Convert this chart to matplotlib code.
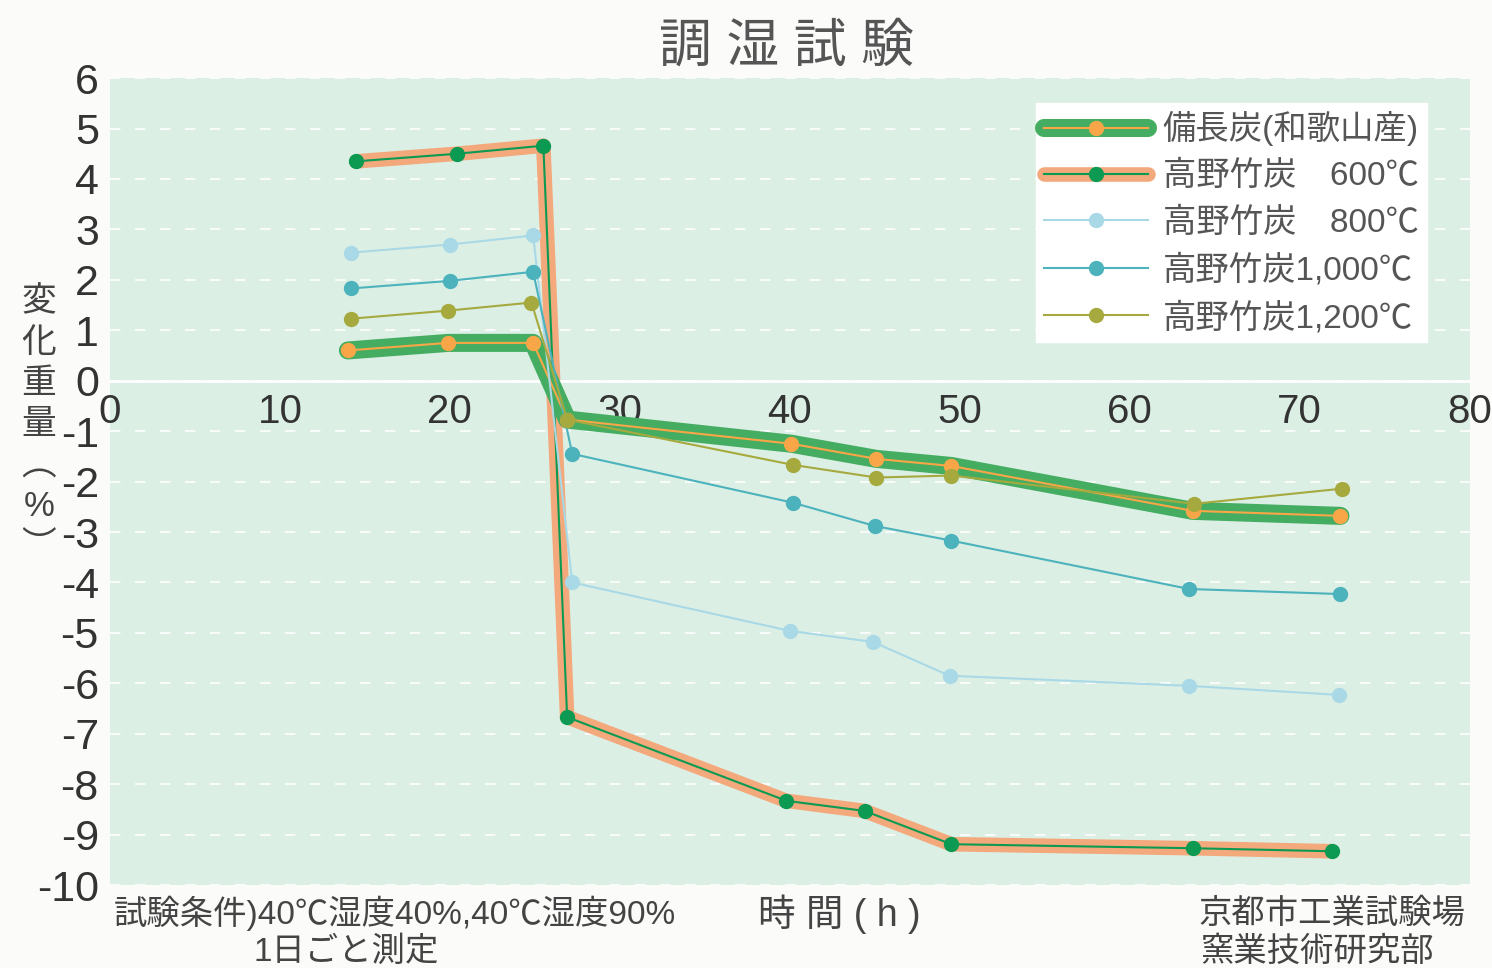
# 調湿試験 chart

import matplotlib.pyplot as plt
from matplotlib.lines import Line2D

plt.rcParams['font.family'] = ['Liberation Sans', 'Noto Sans CJK JP', 'DejaVu Sans']
plt.rcParams['axes.unicode_minus'] = False

# data
labels = ['備長炭(和歌山産)', '高野竹炭　600℃', '高野竹炭　800℃',
          '高野竹炭1,000℃', '高野竹炭1,200℃']

x_bincho = [14.0, 19.9, 24.9, 26.9, 40.1, 45.1, 49.5, 63.7, 72.4]
y_bincho = [0.6, 0.75, 0.75, -0.77, -1.25, -1.55, -1.69, -2.58, -2.68]

x_600 = [14.5, 20.4, 25.5, 26.9, 39.8, 44.4, 49.5, 63.7, 71.9]
y_600 = [4.35, 4.5, 4.66, -6.67, -8.33, -8.53, -9.19, -9.27, -9.33]

x_800 = [14.2, 20.0, 24.9, 27.2, 40.0, 44.9, 49.4, 63.5, 72.3]
y_800 = [2.54, 2.7, 2.88, -4.0, -4.96, -5.18, -5.85, -6.05, -6.23]

x_1000 = [14.2, 20.0, 24.9, 27.2, 40.2, 45.0, 49.5, 63.5, 72.4]
y_1000 = [1.83, 1.98, 2.16, -1.45, -2.42, -2.88, -3.17, -4.13, -4.23]

x_1200 = [14.2, 19.9, 24.8, 26.9, 40.2, 45.1, 49.5, 63.8, 72.5]
y_1200 = [1.23, 1.39, 1.55, -0.77, -1.67, -1.92, -1.88, -2.44, -2.14]

green = '#45ad62'
salmon = '#f3a97c'
orange_mk = '#f9a648'
dkgreen = '#0c9a52'
lblue = '#a9d9e6'
teal = '#4cb3bd'
olive = '#a6aa3e'
txt = '#444444'

fig = plt.figure(figsize=(14.92, 9.68), dpi=100, facecolor='#fbfbfa')
ax = fig.add_axes([0.0737, 0.0857, 0.9113, 0.8336])
ax.set_facecolor('#dcefe5')

# 600C: thick salmon band with thin green line
ax.plot(x_600, y_600, color=salmon, lw=10.5, solid_capstyle='round',
        solid_joinstyle='round', zorder=2)
ax.plot(x_600, y_600, color=dkgreen, lw=1.5, marker='o', ms=10,
        mfc=dkgreen, mec=dkgreen, zorder=3)

# bincho: thick green band with thin orange line
ax.plot(x_bincho, y_bincho, color=green, lw=13, solid_capstyle='round',
        solid_joinstyle='round', zorder=4)
ax.plot(x_bincho, y_bincho, color=orange_mk, lw=1.5, marker='o', ms=10,
        mfc=orange_mk, mec=orange_mk, zorder=5)

ax.plot(x_800, y_800, color=lblue, lw=1.5, marker='o', ms=10, zorder=6)
ax.plot(x_1000, y_1000, color=teal, lw=1.5, marker='o', ms=10, zorder=6)
ax.plot(x_1200, y_1200, color=olive, lw=1.5, marker='o', ms=10, zorder=6)

ax.set_xlim(0, 80)
ax.set_ylim(-10, 6)
ax.set_xticks(range(0, 81, 10))
ax.set_yticks(range(-10, 7))
ax.tick_params(axis='both', length=0, labelcolor='#333333')
ax.tick_params(axis='x', pad=9, labelsize=29)
ax.tick_params(axis='y', pad=8, labelsize=31)

for s in ['top', 'right', 'left']:
    ax.spines[s].set_visible(False)
ax.spines['bottom'].set_position(('data', 0))
ax.spines['bottom'].set_color('white')
ax.spines['bottom'].set_linewidth(2)
ax.yaxis.grid(True, color='white', lw=1.5, ls=(0, (5, 7)), alpha=0.8)
ax.set_axisbelow(True)

# legend
h_bincho = (Line2D([], [], color=green, lw=13, solid_capstyle='round'),
            Line2D([], [], color=orange_mk, lw=1.5, marker='o', ms=10))
h_600 = (Line2D([], [], color=salmon, lw=10.5, solid_capstyle='round'),
         Line2D([], [], color=dkgreen, lw=1.5, marker='o', ms=10))
h_800 = Line2D([], [], color=lblue, lw=1.5, marker='o', ms=10)
h_1000 = Line2D([], [], color=teal, lw=1.5, marker='o', ms=10)
h_1200 = Line2D([], [], color=olive, lw=1.5, marker='o', ms=10)
leg = ax.legend([h_bincho, h_600, h_800, h_1000, h_1200], labels,
                loc='upper right', bbox_to_anchor=(0.981, 0.99),
                fontsize=24, frameon=True, fancybox=False, framealpha=1,
                edgecolor='white', facecolor='white', handlelength=3.1,
                handletextpad=0.45, labelspacing=0.45, borderpad=0.25)
for t in leg.get_texts():
    t.set_color('#555555')

fig.text(0.527, 0.951, '調 湿 試 験', ha='center', va='center',
         fontsize=38, color='#555555')

# vertical y label
fig.text(0.026, 0.705, '変\n化\n重\n量\n︵\n%\n︶', ha='center', va='top',
         fontsize=25, color=txt, linespacing=1.3)

fig.text(0.076, 0.056, '試験条件)40℃湿度40%,40℃湿度90%', ha='left',
         va='center', fontsize=24, color=txt)
fig.text(0.232, 0.016, '1日ごと測定', ha='center', va='center',
         fontsize=24, color=txt)
fig.text(0.5625, 0.056, '時 間 ( h )', ha='center', va='center',
         fontsize=27, color=txt)
fig.text(0.982, 0.056, '京都市工業試験場', ha='right', va='center',
         fontsize=24, color=txt)
fig.text(0.961, 0.016, '窯業技術研究部', ha='right', va='center',
         fontsize=24, color=txt)

fig.savefig('out.png', dpi=100, facecolor=fig.get_facecolor())
